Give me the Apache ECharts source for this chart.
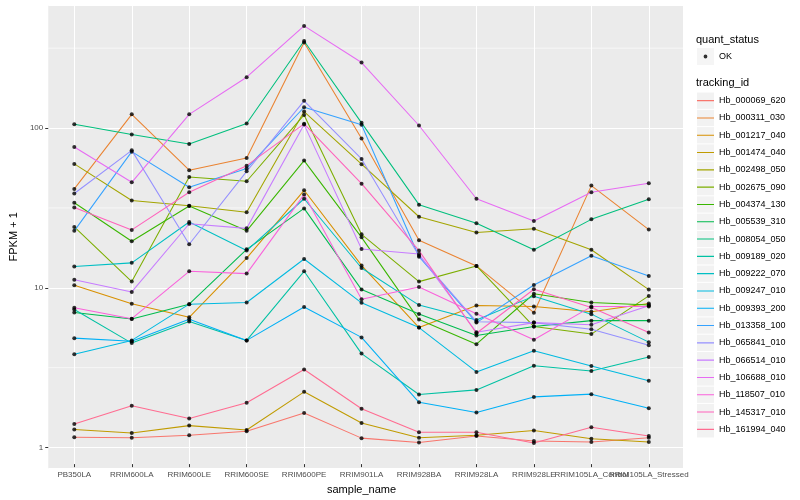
<!DOCTYPE html>
<html><head><meta charset="utf-8">
<script src="https://cdn.jsdelivr.net/npm/echarts@6/dist/echarts.min.js"></script>
<style>html,body{margin:0;padding:0;background:#fff}#c{width:800px;height:500px}</style>
</head><body><div id="c"></div>
<script>
// ---- data (plotted value = FPKM + 1) ----
const categories = ['PB350LA','RRIM600LA','RRIM600LE','RRIM600SE','RRIM600PE','RRIM901LA','RRIM928BA','RRIM928LA','RRIM928LE','RRIM105LA_Control','RRIM105LA_Stressed'];
const trackingIds = ['Hb_000069_620','Hb_000311_030','Hb_001217_040','Hb_001474_040','Hb_002498_050','Hb_002675_090','Hb_004374_130','Hb_005539_310','Hb_008054_050','Hb_009189_020','Hb_009222_070','Hb_009247_010','Hb_009393_200','Hb_013358_100','Hb_065841_010','Hb_066514_010','Hb_106688_010','Hb_118507_010','Hb_145317_010','Hb_161994_040'];
const Hb_000069_620 = [1.09, 1.08, 1.12, 1.19, 1.55, 1.075, 1.01, 1.11, 1.03, 1.015, 1.08];
const Hb_000311_030 = [40.5, 120, 53.2, 63.6, 341, 84.5, 19.2, 13.2, 6.68, 42.5, 22.4];
const Hb_001217_040 = [9.96, 7.6, 6.24, 14.8, 39.7, 13.3, 5.38, 7.42, 7.3, 6.78, 7.63];
const Hb_001474_040 = [1.22, 1.16, 1.29, 1.21, 2.11, 1.34, 1.08, 1.12, 1.2, 1.065, 1.015];
const Hb_002498_050 = [58.3, 34.2, 31.7, 28.8, 125, 58.1, 27.0, 21.5, 22.7, 16.7, 9.35];
const Hb_002675_090 = [23.3, 10.5, 48.2, 45.3, 119, 20.9, 10.5, 13.2, 5.46, 4.89, 8.53];
const Hb_004374_130 = [33.1, 18.9, 31.6, 22.0, 61.2, 20.0, 6.04, 4.22, 8.8, 7.75, 7.47];
const Hb_005539_310 = [6.7, 6.1, 7.56, 16.8, 30.5, 9.35, 6.56, 4.79, 5.46, 5.95, 5.95];
const Hb_008054_050 = [103.8, 89.5, 77.8, 105, 349, 106, 32.2, 24.6, 16.7, 26.0, 34.9];
const Hb_009189_020 = [7.0, 4.29, 5.87, 4.46, 12.2, 3.68, 2.03, 2.17, 3.08, 2.86, 3.5];
const Hb_009222_070 = [13.1, 13.8, 25.0, 16.5, 35.1, 12.8, 7.46, 6.0, 8.5, 6.54, 4.35];
const Hb_009247_010 = [3.65, 4.46, 7.56, 7.75, 14.6, 7.71, 5.38, 2.82, 3.84, 3.07, 2.48];
const Hb_009393_200 = [4.61, 4.4, 6.07, 4.46, 7.25, 4.66, 1.81, 1.56, 1.96, 2.04, 1.66];
const Hb_013358_100 = [22.0, 69.7, 41.5, 54.6, 133, 103, 15.1, 5.78, 10.0, 15.3, 11.4];
const Hb_065841_010 = [37.9, 71, 18.1, 52.3, 146, 62.7, 15.3, 5.86, 5.78, 5.25, 4.15];
const Hb_066514_010 = [10.8, 9.04, 24.4, 22.8, 103.3, 16.9, 15.7, 5.02, 5.78, 5.6, 7.4];
const Hb_106688_010 = [74.5, 44.6, 120, 206, 435, 255, 102, 35.1, 25.4, 38.6, 44.0];
const Hb_118507_010 = [7.18, 6.12, 12.2, 11.8, 37.3, 8.13, 9.7, 6.58, 4.5, 7.3, 7.3];
const Hb_145317_010 = [30.9, 22.3, 38.6, 56.8, 104.5, 43.7, 16.5, 4.95, 9.4, 7.2, 5.0];
const Hb_161994_040 = [1.32, 1.72, 1.43, 1.8, 2.92, 1.65, 1.17, 1.17, 1.0, 1.26, 1.11];
const seriesValues = [Hb_000069_620,Hb_000311_030,Hb_001217_040,Hb_001474_040,Hb_002498_050,Hb_002675_090,Hb_004374_130,Hb_005539_310,Hb_008054_050,Hb_009189_020,Hb_009222_070,Hb_009247_010,Hb_009393_200,Hb_013358_100,Hb_065841_010,Hb_066514_010,Hb_106688_010,Hb_118507_010,Hb_145317_010,Hb_161994_040];
const quantStatus = ['OK'];
const majorBreaks = [1, 10, 100];
const minorBreaks = [3.1623, 31.623, 316.23];
const yLimits = [0.7365, 589.6];

// ---- style ----
const colors = ['#F8766D','#EA8331','#D89000','#C09B00','#A3A500','#7CAE00','#39B600','#00BB4E','#00BF7D','#00C1A3','#00BFC4','#00BAE0','#00B0F6','#35A2FF','#9590FF','#C77CFF','#E76BF3','#FA62DB','#FF62BC','#FF6C91'];
const FONT = '"Liberation Sans", Arial, sans-serif';

const chart = echarts.init(document.getElementById('c'), null, {renderer:'canvas'});

const isMajor = v => majorBreaks.some(b => Math.abs(Math.log10(v) - Math.log10(b)) < 1e-6);

const lineSeries = trackingIds.map((id, i) => ({
  name: id, type: 'line', xAxisIndex: 1, yAxisIndex: 1,
  data: seriesValues[i], color: colors[i],
  showSymbol: false, symbol: 'none', clip: false,
  lineStyle: {width: 1.05, color: colors[i]},
  itemStyle: {color: colors[i]},
  emphasis: {disabled: true}, animation: false, z: 3
}));
const pts = [];
seriesValues.forEach(arr => arr.forEach((v, j) => pts.push([j, v])));

const linePath = 'path://M0,0h0.01v0.01h-0.01z M0,8.1h17v1.1h-17z M16.99,17.29h0.01v0.01h-0.01z';
const dotPath = 'path://M0,0h0.01v0.01h-0.01z M16.99,16.99h0.01v0.01h-0.01z M6.6,8.5a1.9,1.9 0 1,0 3.8,0a1.9,1.9 0 1,0 -3.8,0z';

// minor gridlines: line series on the full-width panel grid, one segment per break
const minorGridSeries = minorBreaks.map((v, k) => ({
  name: '_minor' + k, type: 'line', xAxisIndex: 0, yAxisIndex: 0,
  data: [[0, v], [1, v]], showSymbol: false, symbol: 'none', silent: true,
  lineStyle: {color: '#FFFFFF', width: 0.6}, emphasis: {disabled: true}, z: 1, animation: false
}));

chart.setOption({
  animation: false,
  textStyle: {fontFamily: FONT},
  title: [
    {text: 'quant_status', left: 696, top: 34, padding: 0, textStyle: {fontSize: 11, fontWeight: 'normal', color: '#000', fontFamily: FONT}},
    {text: 'tracking_id', left: 696, top: 77, padding: 0, textStyle: {fontSize: 11, fontWeight: 'normal', color: '#000', fontFamily: FONT}}
  ],
  grid: [
    {left: 40, right: 117, top: 5, bottom: 31.3, show: true, backgroundColor: '#EBEBEB', borderWidth: 0},
    {left: 74.3, right: 151.2, top: 5, bottom: 31.3}
  ],
  xAxis: [
    {gridIndex: 0, type: 'value', min: 0, max: 1, show: false},
    {gridIndex: 1, type: 'category', data: categories, boundaryGap: false,
     axisLine: {show: false},
     axisTick: {show: true, length: 3, lineStyle: {color: '#333', width: 1}},
     axisLabel: {interval: 0, fontSize: 8, color: '#4D4D4D', margin: 7, fontFamily: FONT},
     splitLine: {show: true, lineStyle: {color: '#FFFFFF', width: 1}},
     name: 'sample_name', nameLocation: 'middle', nameGap: 14,
     nameTextStyle: {fontSize: 11, color: '#000', fontFamily: FONT}}
  ],
  yAxis: [
    {gridIndex: 0, type: 'log', logBase: 10, min: yLimits[0], max: yLimits[1],
     axisLine: {show: false},
     axisTick: {show: true, length: 3, lineStyle: {color: '#333', width: 1}},
     axisLabel: {fontSize: 8, color: '#4D4D4D', margin: 5, fontFamily: FONT,
                 showMinLabel: false, showMaxLabel: false,
                 formatter: v => isMajor(v) ? String(Math.round(v)) : ''},
     splitLine: {show: true, lineStyle: {color: '#FFFFFF', width: 1}},
     name: 'FPKM + 1', nameLocation: 'middle', nameGap: 21,
     nameTextStyle: {fontSize: 11, color: '#000', fontFamily: FONT}},
    {gridIndex: 1, type: 'log', logBase: 10, min: yLimits[0], max: yLimits[1], show: false}
  ],
  legend: [
    {data: quantStatus, orient: 'vertical', left: 697, top: 48, padding: 0, itemWidth: 17, itemHeight: 17,
     icon: 'rect', itemStyle: {color: '#F2F2F2'}, textStyle: {color: 'rgba(0,0,0,0)', fontSize: 9}, selectedMode: false, z: 1},
    {data: quantStatus, orient: 'vertical', left: 697, top: 48, padding: 0, itemWidth: 17, itemHeight: 17,
     icon: dotPath, textStyle: {color: '#000', fontSize: 9, fontFamily: FONT}, selectedMode: false, z: 2},
    {data: trackingIds, orient: 'vertical', left: 697, top: 92.5, padding: 0, itemWidth: 17, itemHeight: 16.3, itemGap: 1,
     icon: 'rect', itemStyle: {color: '#F2F2F2'}, textStyle: {color: 'rgba(0,0,0,0)', fontSize: 9}, selectedMode: false, z: 1},
    {data: trackingIds, orient: 'vertical', left: 697, top: 92, padding: 0, itemWidth: 17, itemHeight: 17.3, itemGap: 0,
     icon: linePath, textStyle: {color: '#000', fontSize: 9, fontFamily: FONT}, selectedMode: false, z: 2}
  ],
  series: minorGridSeries.concat(lineSeries).concat([
    {name: 'OK', type: 'scatter', xAxisIndex: 1, yAxisIndex: 1, data: pts, symbol: 'circle', symbolSize: 4,
     itemStyle: {color: '#000'}, clip: false, emphasis: {disabled: true}, z: 5, animation: false}
  ])
});
</script></body></html>
